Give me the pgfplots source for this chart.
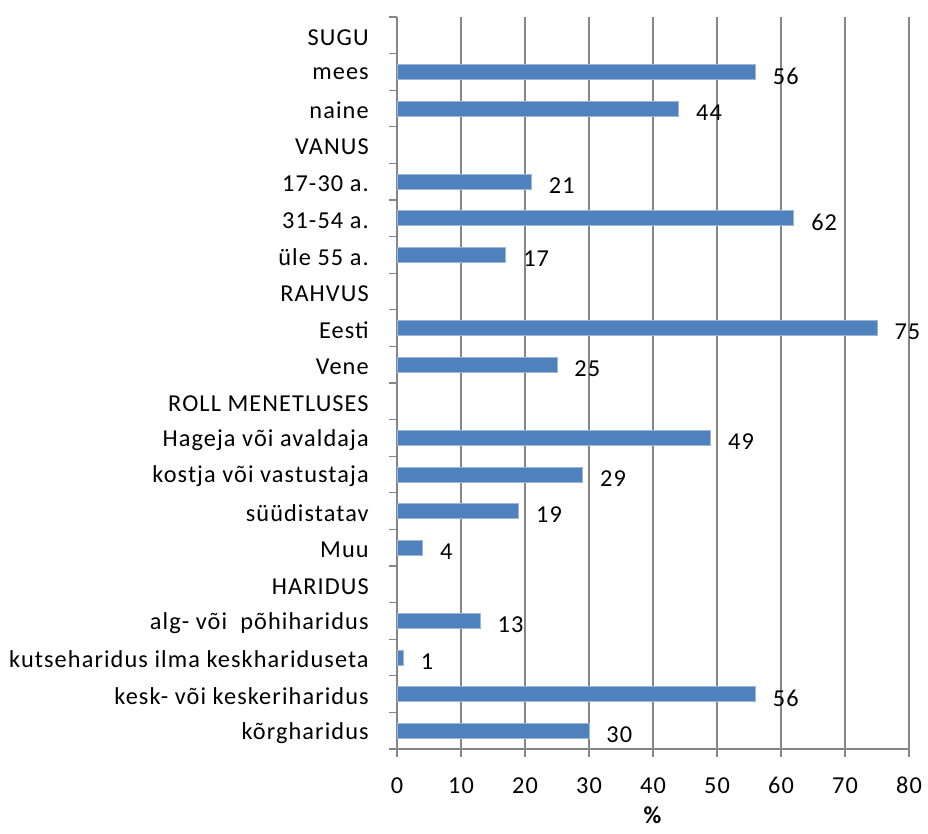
\documentclass[border=0pt]{standalone}
\usepackage{pgfplots}
\pgfplotsset{compat=1.18}
\usepackage{fontspec}
\setmainfont{Carlito}[LetterSpace=4.5]
\definecolor{barblue}{HTML}{4F81BD}
\definecolor{baredge}{HTML}{9CB6D8}
\definecolor{gridgray}{HTML}{868686}
\newcommand\chartfont{\fontsize{24.3}{28}\selectfont}
\begin{document}
\chartfont
\begin{tikzpicture}[x=1pt,y=1pt]
\useasboundingbox (-397,-85) rectangle (531,749);
\begin{axis}[
  at={(0,0)}, anchor=south west,
  scale only axis, width=512pt, height=732pt,
  xbar, bar width=15pt,
  xmin=0, xmax=80, ymin=-0.5, ymax=19.5,
  y dir=reverse,
  axis x line*=bottom, axis y line*=left,
  axis line style={draw=gridgray, line width=1.6pt, -},
  xtick={0,10,...,80},
  xmajorgrids, major grid style={draw=gridgray, line width=1.3pt},
  tick align=outside, tick style={draw=gridgray, line width=1.3pt},
  major tick length=8pt, minor tick length=8pt,
  ytick={0,...,19},
  minor ytick={-0.5,0.5,...,19.5},
  yticklabels={SUGU, mees, naine, VANUS, 17-30 a., 31-54 a., üle 55 a., RAHVUS, Eesti, Vene, ROLL MENETLUSES, Hageja või avaldaja, kostja või vastustaja, süüdistatav, Muu, HARIDUS, alg- või\ \ põhiharidus, kutseharidus ilma keskhariduseta, kesk- või keskeriharidus, kõrgharidus},
  major y tick style={draw=none},
  yticklabel style={font=\chartfont, xshift=-12pt, yshift=-2pt},
  xticklabel style={font=\chartfont, yshift=-12pt},
  /pgf/number format/assume math mode=true,
  xlabel={\textbf{\%}},
  xlabel style={font=\chartfont, yshift=-3.5pt, inner sep=1pt},
  nodes near coords,
  nodes near coords style={font=\chartfont, anchor=west, xshift=9pt, yshift=-4pt, text=black},
]
\addplot[fill=barblue, draw=baredge, line width=0.8pt] coordinates {
  (56,1) (44,2)
  (21,4) (62,5) (17,6)
  (75,8) (25,9)
  (49,11) (29,12) (19,13) (4,14)
  (13,16) (1,17) (56,18) (30,19)
};
\end{axis}
\end{tikzpicture}
\end{document}
